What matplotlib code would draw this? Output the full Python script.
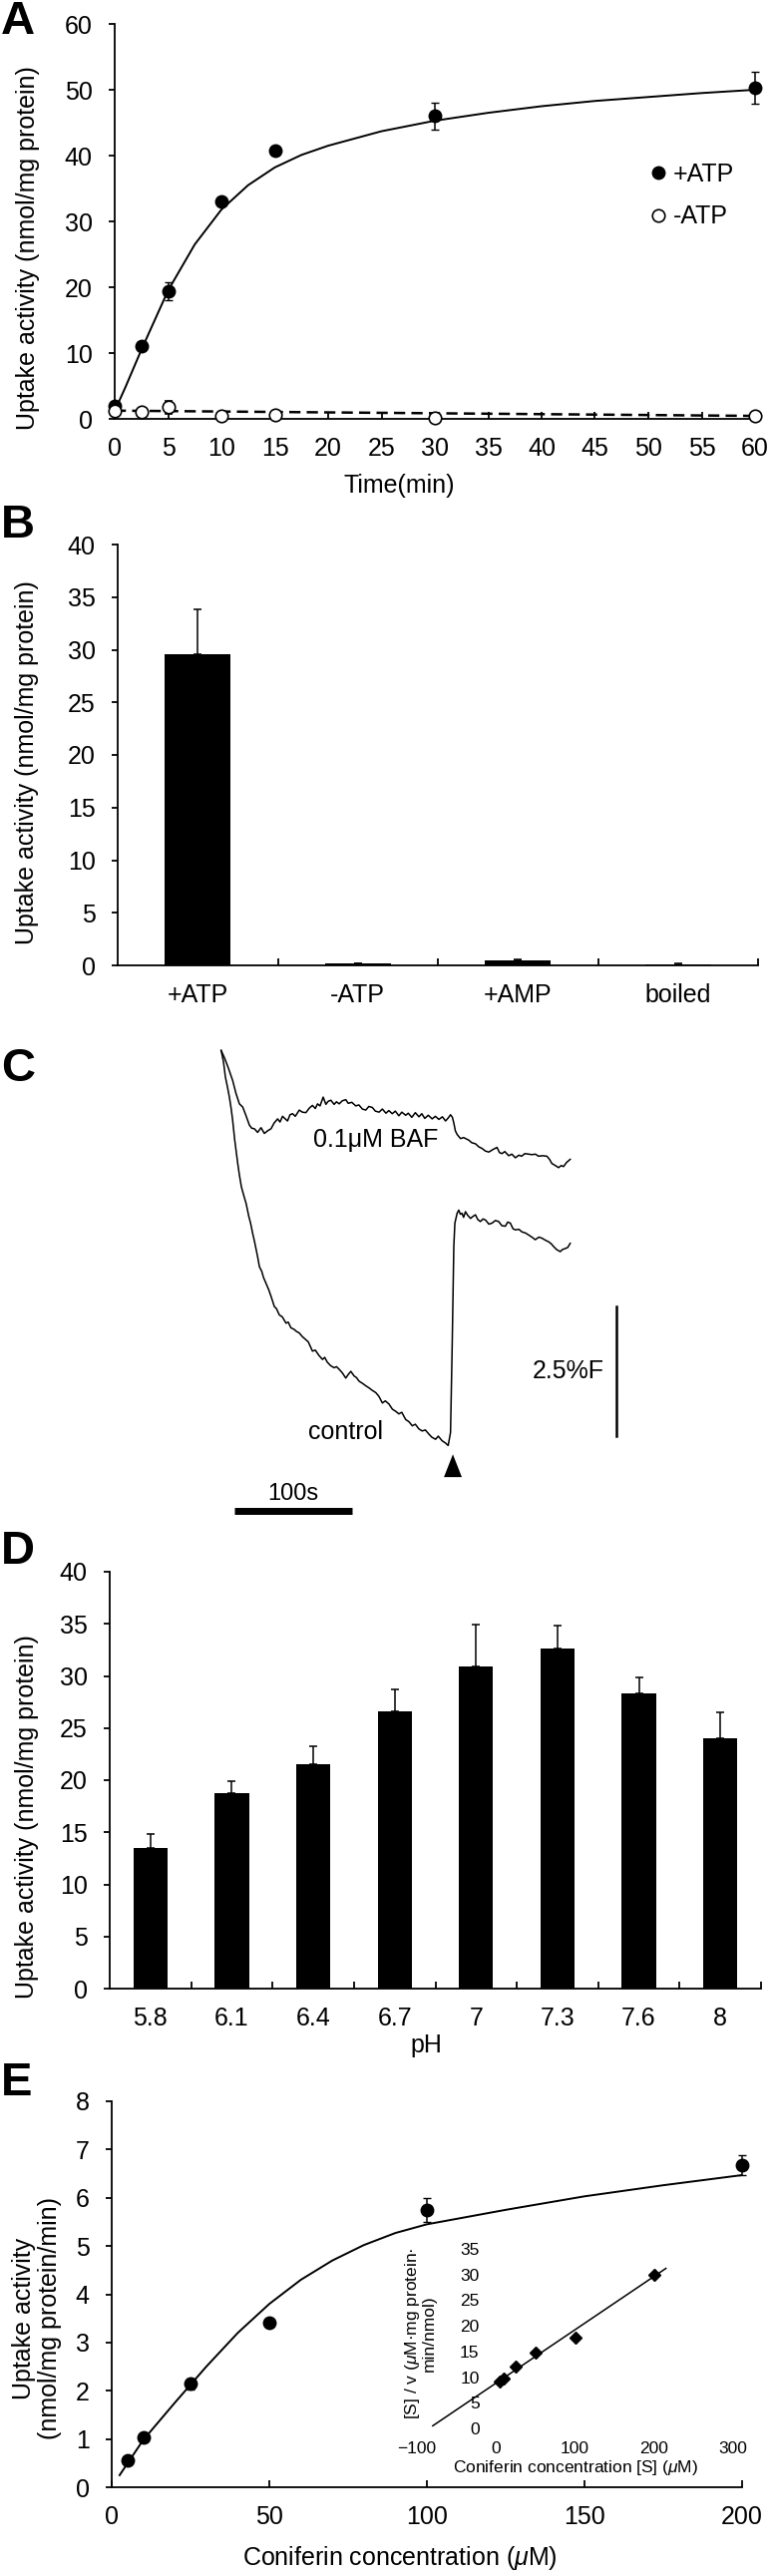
import numpy as np
import matplotlib
matplotlib.use('Agg')
import matplotlib.pyplot as plt
from matplotlib.lines import Line2D

plt.rcParams['font.family'] = ['Liberation Sans', 'DejaVu Sans']
plt.rcParams['mathtext.fontset'] = 'custom'
plt.rcParams['mathtext.rm'] = 'Liberation Sans'
plt.rcParams['mathtext.it'] = 'Liberation Sans:italic'

# ---- data ----
# A: time course
time_min = [0, 2.5, 5, 10, 15, 30, 60]
plus_atp = [2.0, 11.0, 19.4, 33.0, 40.8, 46.0, 50.3]
plus_atp_err = [0, 0, 1.3, 0, 0, 2.0, 2.4]
minus_atp = [1.2, 1.0, 1.8, 0.45, 0.6, 0.2, 0.4]
minus_atp_err = [0, 0, 1.0, 0, 0, 0, 0]
fit_t = [0, 1, 2.5, 5, 7.5, 10, 12.5, 15, 17.5, 20, 25, 30, 35, 40, 45, 50, 55, 60]
fit_plus = [1.2, 4.8, 10.5, 19.5, 26.5, 31.8, 35.5, 38.2, 40.1, 41.5, 43.7, 45.3, 46.5, 47.5, 48.3, 48.9, 49.5, 50.0]
fit_minus_t = [0, 60]
fit_minus = [1.25, 0.45]

# B: conditions
conditions = ['+ATP', '-ATP', '+AMP', 'boiled']
cond_vals = [29.6, 0.2, 0.45, 0.12]
cond_err = [4.2, 0.0, 0.15, 0.05]

# C: fluorescence traces (time in s, signal in %F)
baf_t = [0, 3, 6, 9.8, 12.5, 15.5, 18.3, 21, 24, 26, 28.2, 31, 33.9, 36.7, 39.5, 42.4,
         45, 48, 50, 52.2, 54, 56.4, 58.5, 60.7, 63, 66.4, 69, 72, 75, 77.6, 80, 81.9,
         84, 86.7, 89, 91, 93.2, 96, 98, 100.3, 103, 105.9, 108, 111, 114.4, 117, 120,
         122.9, 125.5, 128.5, 131, 134.2, 137, 140, 142.5, 145.4, 148, 151, 153.5, 156.8,
         159, 162, 165, 168.1, 170.5, 173, 176, 179.3, 182, 185, 188, 190.7, 193, 194.9,
         196.5, 197.7, 199, 200.5, 203.4, 206, 210.4, 213, 216.1, 219, 221.7, 224.5,
         227.4, 231, 234.4, 236.5, 238.6, 241, 244.3, 247, 250, 253, 255.3, 258, 261.3,
         264, 267, 269.7, 273, 276.8, 279, 281, 284, 286.7, 289, 290.9, 293.5, 296.6]
baf_f = [0, -0.15, -0.33, -0.58, -0.82, -1.03, -1.09, -1.25, -1.44, -1.50, -1.51, -1.58,
         -1.49, -1.60, -1.55, -1.51, -1.40, -1.32, -1.38, -1.27, -1.31, -1.36, -1.24,
         -1.22, -1.27, -1.15, -1.19, -1.20, -1.11, -1.06, -1.12, -1.03, -1.07, -0.90,
         -1.04, -0.98, -0.96, -1.04, -0.99, -1.03, -0.97, -0.95, -1.02, -1.00, -1.07,
         -1.05, -1.13, -1.15, -1.08, -1.10, -1.17, -1.19, -1.13, -1.21, -1.16, -1.22,
         -1.17, -1.26, -1.19, -1.25, -1.21, -1.29, -1.20, -1.28, -1.22, -1.31, -1.25,
         -1.32, -1.27, -1.33, -1.28, -1.36, -1.30, -1.24, -1.29, -1.40, -1.55, -1.62,
         -1.70, -1.68, -1.73, -1.78, -1.80, -1.86, -1.89, -1.94, -1.96, -1.91, -1.87,
         -1.97, -1.99, -1.95, -2.03, -2.00, -2.07, -2.02, -2.04, -1.99, -2.00, -2.01,
         -2.00, -2.04, -2.03, -2.04, -2.10, -2.18, -2.22, -2.26, -2.22, -2.24, -2.16, -2.10]
ctrl_t = [0, 2, 3.6, 5.5, 7, 8.5, 9.8, 11.5, 14.1, 15.5, 17.2, 19, 21.2, 23.5, 25, 26.8,
          28.5, 31, 32.5, 34.5, 36, 38.1, 40.5, 42.5, 45.2, 47, 49.4, 52, 55.1, 57, 59.3,
          62, 64, 66.4, 69, 72, 74, 77.6, 80, 83, 86.1, 88, 90.1, 93, 96, 98, 100.3, 103,
          105.9, 108, 110.2, 113, 115, 117.2, 120, 123, 125.7, 128, 131.4, 134, 137, 139.5,
          142.6, 145.5, 148.3, 151, 153.5, 156.8, 159.5, 162.4, 165, 168, 170.8, 173.5,
          176.5, 179, 182.2, 184.5, 187.8, 190.5, 192.9, 194.9, 196.3, 197.7, 198.6, 200.5,
          201.9, 203.3, 204.7, 206, 207.6, 209.5, 211.9, 214, 216.1, 218, 220.3, 222.5,
          224.6, 227.5, 230.2, 233, 235.8, 238.5, 241.5, 243.5, 245.7, 248, 250, 253, 255.6,
          258.5, 261.3, 264, 266.9, 270, 272.5, 275.5, 278.2, 280.5, 282.4, 285, 288.1, 290,
          292.4, 294.5, 296.6]
ctrl_f = [0, -0.22, -0.51, -0.72, -0.90, -1.12, -1.35, -1.72, -2.18, -2.40, -2.63, -2.78,
          -2.95, -3.20, -3.33, -3.53, -3.70, -3.98, -4.17, -4.26, -4.38, -4.49, -4.62,
          -4.75, -4.94, -4.98, -5.10, -5.14, -5.26, -5.24, -5.35, -5.38, -5.42, -5.45,
          -5.52, -5.58, -5.62, -5.80, -5.78, -5.88, -5.96, -5.92, -6.01, -6.08, -6.12,
          -6.10, -6.15, -6.22, -6.32, -6.25, -6.19, -6.28, -6.31, -6.38, -6.42, -6.47,
          -6.51, -6.55, -6.60, -6.67, -6.80, -6.76, -6.82, -6.92, -6.96, -7.01, -6.98,
          -7.12, -7.16, -7.24, -7.21, -7.30, -7.34, -7.32, -7.40, -7.46, -7.50, -7.44,
          -7.53, -7.57, -7.62, -7.37, -5.71, -3.78, -3.33, -3.14, -3.08, -3.16, -3.14,
          -3.22, -3.11, -3.18, -3.24, -3.20, -3.17, -3.26, -3.30, -3.25, -3.27, -3.35,
          -3.33, -3.28, -3.30, -3.38, -3.39, -3.31, -3.33, -3.44, -3.46, -3.45, -3.50,
          -3.52, -3.56, -3.60, -3.65, -3.60, -3.62, -3.66, -3.69, -3.73, -3.78, -3.84,
          -3.88, -3.84, -3.82, -3.80, -3.72]

# D: pH dependence
ph_labels = ['5.8', '6.1', '6.4', '6.7', '7', '7.3', '7.6', '8']
ph_vals = [13.5, 18.8, 21.5, 26.6, 30.9, 32.6, 28.3, 24.0]
ph_err = [1.3, 1.1, 1.8, 2.1, 4.0, 2.2, 1.6, 2.5]

# E: concentration dependence + Hanes-Woolf inset
conc = [5, 10, 25, 50, 100, 200]
rate = [0.55, 1.04, 2.14, 3.42, 5.75, 6.68]
rate_err = [0, 0, 0.12, 0, 0.25, 0.2]
fit_conc = [2.5, 10, 20, 30, 40, 50, 60, 70, 80, 90, 100, 125, 150, 175, 200]
fit_rate = [0.25, 0.98, 1.75, 2.5, 3.2, 3.8, 4.3, 4.7, 5.02, 5.27, 5.45, 5.75, 6.03, 6.26, 6.47]
hw_s = [5, 10, 25, 50, 100, 200]
hw_sv = [9.2, 9.8, 12.0, 14.8, 17.6, 30.0]
hw_fit_s = [-80, 215]
hw_fit_sv = [0.5, 31.2]

# ---- figure ----
W, H = 775, 2583
fig = plt.figure(figsize=(W / 100, H / 100), dpi=100)
FS = 18
LW = 1.3


def px_axes(left, top, right, bottom):
    return fig.add_axes([left / W, 1 - bottom / H, (right - left) / W, (bottom - top) / H])


def style(ax, xpad=13):
    for s in ['top', 'right']:
        ax.spines[s].set_visible(False)
    for s in ['left', 'bottom']:
        ax.spines[s].set_linewidth(LW)
    ax.tick_params(axis='y', direction='out', length=4, width=LW, labelsize=FS, pad=12)
    ax.tick_params(axis='x', which='both', direction='in', length=5, width=LW,
                   labelsize=FS, pad=xpad)


def place_xlabel(ax, x, y):
    ax.xaxis.set_label_coords(x / W, 1 - y / H, transform=fig.transFigure)
    ax.xaxis.label.set_va('center')


def place_ylabel(ax, x, y):
    ax.yaxis.set_label_coords(x / W, 1 - y / H, transform=fig.transFigure)
    ax.yaxis.label.set_va('center')
    ax.yaxis.label.set_ha('center')


def panel_letter(s, y):
    fig.text(1 / W, 1 - y / H, s, fontsize=34, fontweight='bold', va='top', ha='left')


ylab = 'Uptake activity (nmol/mg protein)'

# Panel A
axA = px_axes(115, 24, 757, 420)
axA.plot(fit_t, fit_plus, color='k', lw=1.4)
axA.plot(fit_minus_t, fit_minus, color='k', lw=1.8, dashes=(4.5, 2.5))
axA.errorbar(time_min, plus_atp, yerr=plus_atp_err, fmt='o', color='k', ms=9,
             capsize=3, elinewidth=1.1, clip_on=False, zorder=3)
axA.errorbar(time_min, minus_atp, yerr=minus_atp_err, fmt='o', mfc='white', mec='k',
             mew=1.2, ecolor='k', ms=9, capsize=3, elinewidth=1.1, clip_on=False, zorder=3)
axA.set_xlim(0, 60)
axA.set_ylim(0, 60)
axA.set_xticks(range(0, 61, 5))
axA.set_yticks(range(0, 61, 10))
style(axA)
axA.set_xlabel('Time(min)', fontsize=FS)
place_xlabel(axA, 400, 487)
axA.set_ylabel(ylab, fontsize=FS)
place_ylabel(axA, 28, 249)
handles = [Line2D([], [], marker='o', ls='none', color='k', ms=9),
           Line2D([], [], marker='o', ls='none', mfc='white', mec='k', mew=1.2, ms=9)]
axA.legend(handles, ['+ATP', '-ATP'], frameon=False, fontsize=FS, loc='upper left',
           bbox_to_anchor=(640 / W, 1 - 150 / H), bbox_transform=fig.transFigure,
           handlelength=0.6, handletextpad=0.3, labelspacing=0.75, borderpad=0)
panel_letter('A', 0)

# Panel B
axB = px_axes(118, 546, 760, 968)
xb = np.arange(len(conditions))
axB.bar(xb, cond_vals, width=0.41, color='k',
        yerr=[np.zeros(len(cond_err)), cond_err],
        error_kw=dict(ecolor='k', elinewidth=1.1, capsize=3, capthick=1.1))
axB.set_xlim(-0.5, len(conditions) - 0.5)
axB.set_ylim(0, 40)
axB.set_yticks(range(0, 41, 5))
axB.set_xticks(xb, conditions)
axB.set_xticks(xb + 0.5, minor=True)
style(axB)
axB.tick_params(axis='x', which='major', length=0)
axB.set_ylabel(ylab, fontsize=FS)
place_ylabel(axB, 27, 765)
panel_letter('B', 505)

# Panel C
axC = px_axes(0, 1040, 775, 1530)
axC.plot(baf_t, baf_f, color='k', lw=1.1)
axC.plot(ctrl_t, ctrl_f, color='k', lw=1.1)
axC.set_xlim(-187.9, 468.9)
axC.set_ylim(-9.17, 0.256)
axC.axis('off')
axC.text(131, -1.73, '0.1\u03bcM BAF', fontsize=FS, ha='center', va='center')
axC.text(106, -7.37, 'control', fontsize=FS, ha='center', va='center')
axC.fill([189.3, 204.5, 196.9], [-8.23, -8.23, -7.79], color='k', lw=0)
axC.plot([11.5, 111.5], [-8.88, -8.88], color='k', lw=5, solid_capstyle='butt')
axC.text(61, -8.55, '100s', fontsize=17, ha='center', va='center')
axC.plot([335.8, 335.8], [-4.94, -7.44], color='k', lw=1.8)
axC.text(325.7, -6.19, '2.5%F', fontsize=FS, ha='right', va='center')
panel_letter('C', 1050)

# Panel D
axD = px_axes(110, 1576, 763, 1994)
xd = np.arange(len(ph_labels))
axD.bar(xd, ph_vals, width=0.42, color='k',
        yerr=[np.zeros(len(ph_err)), ph_err],
        error_kw=dict(ecolor='k', elinewidth=1.1, capsize=3, capthick=1.1))
axD.set_xlim(-0.5, len(ph_labels) - 0.5)
axD.set_ylim(0, 40)
axD.set_yticks(range(0, 41, 5))
axD.set_xticks(xd, ph_labels)
axD.set_xticks(xd + 0.5, minor=True)
style(axD)
axD.tick_params(axis='x', which='major', length=0)
axD.set_xlabel('pH', fontsize=FS)
place_xlabel(axD, 427, 2051)
axD.set_ylabel(ylab, fontsize=FS)
place_ylabel(axD, 27, 1822)
panel_letter('D', 1534)

# Panel E
axE = px_axes(112, 2107, 744, 2494)
axE.plot(fit_conc, fit_rate, color='k', lw=1.4)
axE.errorbar(conc, rate, yerr=rate_err, fmt='o', color='k', ms=9, capsize=3,
             elinewidth=1.1, clip_on=False, zorder=3)
axE.set_xlim(0, 200)
axE.set_ylim(0, 8)
axE.set_xticks(range(0, 201, 50))
axE.set_yticks(range(0, 9))
style(axE)
axE.set_xlabel('Coniferin concentration ($\\mu$M)', fontsize=FS)
place_xlabel(axE, 401, 2565)
axE.set_ylabel('Uptake activity\n(nmol/mg protein/min)', fontsize=FS, linespacing=1.1)
place_ylabel(axE, 37, 2325)
panel_letter('E', 2067)

# inset (Hanes-Woolf)
axI = px_axes(418, 2255, 735, 2435)
axI.plot(hw_fit_s, hw_fit_sv, color='k', lw=1.1)
axI.plot(hw_s, hw_sv, 'D', color='k', ms=6)
axI.set_xlim(-100, 300)
axI.set_ylim(0, 35)
axI.patch.set_alpha(0)
for s in ['top', 'right', 'bottom']:
    axI.spines[s].set_visible(False)
axI.spines['left'].set_position(('data', 0))
axI.spines['left'].set_color('none')
axI.set_xticks(range(-100, 301, 100))
axI.set_yticks(range(0, 36, 5))
axI.tick_params(length=0, labelsize=12.5, pad=12)
axI.tick_params(axis='x', pad=9)
axI.set_xlabel('Coniferin concentration [S] ($\\mu$M)', fontsize=12.5)
place_xlabel(axI, 577, 2475)
fig.text(421 / W, 1 - 2340 / H, '[S] / v ($\\mu$M\u00b7mg protein\u00b7\nmin/nmol)',
         rotation=90, fontsize=12.5, ha='center', va='center', ma='center', linespacing=0.95)

fig.savefig('out.png', dpi=100)
